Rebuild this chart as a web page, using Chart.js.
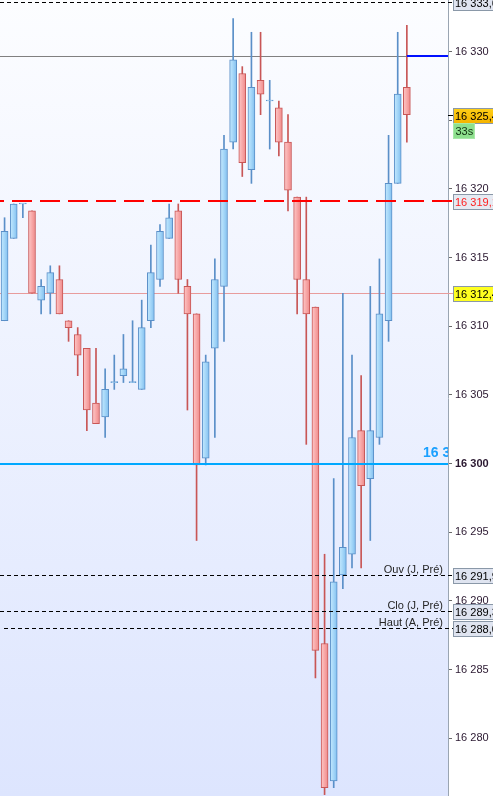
<!DOCTYPE html>
<html>
<head>
<meta charset="utf-8">
<script src="https://cdn.jsdelivr.net/npm/chart.js@4.4.0/dist/chart.umd.min.js"></script>
<style>
  html, body { margin: 0; padding: 0; background: #fff; }
  canvas { display: block; }
</style>
</head>
<body>
<canvas id="chart" width="493" height="796"></canvas>
<script>
// candles (one minute bars), left to right
const opens  = [16310.4, 16316.4, 16318.9, 16318.4, 16311.9, 16312.4, 16313.4, 16310.4, 16309.4, 16308.4,
                16304.4, 16303.4, 16305.9, 16306.4, 16305.9, 16305.4, 16310.4, 16313.4, 16316.4, 16318.4,
                16312.9, 16310.9, 16300.4, 16308.4, 16312.9, 16323.4, 16328.4, 16321.4, 16327.9, 16326.4,
                16325.9, 16323.4, 16319.4, 16313.4, 16311.4, 16286.9, 16276.9, 16291.9, 16293.4, 16302.4,
                16298.9, 16301.9, 16310.4, 16320.4, 16327.4];
const highs  = [16317.9, 16318.9, 16318.9, 16318.4, 16313.4, 16314.4, 16314.4, 16310.4, 16309.9, 16308.4,
                16308.4, 16306.9, 16307.9, 16309.4, 16310.4, 16311.9, 16315.9, 16317.4, 16318.9, 16318.9,
                16313.4, 16310.9, 16307.9, 16314.9, 16323.9, 16332.4, 16328.9, 16331.4, 16331.4, 16327.9,
                16326.4, 16325.4, 16319.4, 16319.4, 16311.4, 16293.4, 16298.9, 16312.4, 16307.9, 16306.4,
                16312.9, 16314.9, 16323.9, 16331.4, 16331.9];
const lows   = [16310.4, 16316.4, 16317.9, 16312.4, 16310.9, 16310.9, 16310.9, 16308.9, 16306.4, 16302.4,
                16302.9, 16301.9, 16305.4, 16305.9, 16305.9, 16305.4, 16309.9, 16312.9, 16316.4, 16312.4,
                16303.9, 16294.4, 16299.9, 16301.9, 16308.9, 16322.9, 16320.9, 16320.4, 16325.4, 16322.9,
                16322.4, 16318.4, 16310.9, 16301.4, 16284.4, 16275.9, 16276.4, 16290.9, 16292.4, 16292.4,
                16294.4, 16301.4, 16308.9, 16320.4, 16323.4];
const closes = [16316.9, 16318.9, 16318.9, 16312.4, 16312.9, 16313.9, 16310.9, 16309.9, 16307.9, 16303.9,
                16302.9, 16305.4, 16305.9, 16306.9, 16305.9, 16309.9, 16313.9, 16316.9, 16317.9, 16313.4,
                16310.9, 16299.9, 16307.4, 16313.4, 16322.9, 16329.4, 16321.9, 16327.4, 16326.9, 16326.4,
                16323.4, 16319.9, 16313.4, 16310.9, 16286.4, 16276.4, 16291.4, 16293.9, 16301.9, 16298.4,
                16302.4, 16310.9, 16320.4, 16326.9, 16325.4];

// 45 bars plus empty room on the right
const slotCount = 49;
const slots = Array.from({ length: slotCount }, (_, i) => String(i + 1));

const tickValues = [16280, 16285, 16290, 16295, 16300, 16305, 16310, 16315, 16320, 16325, 16330];

// horizontal levels
const topLevel = 16333.6;
const highLevel = 16329.7;
const redLevel = 16319.1;
const pinkLevel = 16312.4;
const roundLevel = 16300;
const lastPrice = 16325.4;
const timerText = '33s';
const prevNames = ['Ouv (J, Pré)', 'Clo (J, Pré)', 'Haut (A, Pré)'];
const prevLevels = [16291.9, 16289.3, 16288.0];

const BLUE_LINE = '#5a8fc8';
const RED_LINE = '#c85656';
const BLUE_STOPS = ['#bfe6fd', '#a4d6f8', '#86c2f0'];
const RED_STOPS = ['#fcc4c4', '#f8a8a8', '#ef8e8e'];

const isUp = opens.map((o, i) => closes[i] >= o);
const lineColors = isUp.map(u => u ? BLUE_LINE : RED_LINE);

const fmt = (v, dec) => {
  const s = v.toFixed(dec).replace('.', ',');
  return s.slice(0, 2) + ' ' + s.slice(2);
};

// horizontal shading across each body
function bodyFill(c) {
  const up = isUp[c.dataIndex];
  const stops = up ? BLUE_STOPS : RED_STOPS;
  const xs = c.chart.scales && c.chart.scales.x;
  if (!xs || xs.width == null) return stops[1];
  const cx = xs.getPixelForValue(c.dataIndex);
  const g = c.chart.ctx.createLinearGradient(cx - 3, 0, cx + 3, 0);
  g.addColorStop(0, stops[0]);
  g.addColorStop(0.5, stops[1]);
  g.addColorStop(1, stops[2]);
  return g;
}

function hline(ctx, y, x1, x2, color, width, dash, offset) {
  ctx.save();
  ctx.strokeStyle = color;
  ctx.lineWidth = width;
  ctx.setLineDash(dash || []);
  ctx.lineDashOffset = offset || 0;
  ctx.beginPath();
  ctx.moveTo(x1, y);
  ctx.lineTo(x2, y);
  ctx.stroke();
  ctx.restore();
}

function priceBox(ctx, x, y, text, bg, fg) {
  const top = Math.round(y) - 7;
  ctx.save();
  ctx.fillStyle = bg;
  ctx.fillRect(x, top, 60, 15);
  ctx.strokeStyle = '#8a98a8';
  ctx.lineWidth = 1;
  ctx.strokeRect(x + 0.5, top + 0.5, 60, 15);
  ctx.fillStyle = fg;
  ctx.font = '11px "Liberation Sans", Arial, sans-serif';
  ctx.textBaseline = 'middle';
  ctx.fillText(text, x + 2, top + 8.5);
  ctx.restore();
}

const levelsPlugin = {
  id: 'levels',
  beforeDraw(chart) {
    const { ctx, chartArea: a } = chart;
    const g = ctx.createLinearGradient(0, a.top, 0, a.bottom);
    g.addColorStop(0, '#fcfdff');
    g.addColorStop(1, '#dde5fe');
    ctx.save();
    ctx.fillStyle = g;
    ctx.fillRect(a.left, a.top, a.right - a.left, a.bottom - a.top);
    ctx.restore();
  },
  beforeDatasetsDraw(chart) {
    const { ctx, chartArea: a } = chart;
    const y = chart.scales.y;
    hline(ctx, Math.round(y.getPixelForValue(highLevel)) + 0.5, a.left, a.right, '#808080', 1);
    hline(ctx, Math.round(y.getPixelForValue(pinkLevel)) + 0.5, a.left, a.right + 5, '#e89c9c', 1);
  },
  afterDatasetsDraw(chart) {
    const { ctx, chartArea: a } = chart;
    const y = chart.scales.y, x = chart.scales.x;
    const lastX = x.getPixelForValue(opens.length - 1);
    hline(ctx, Math.round(y.getPixelForValue(topLevel)) + 0.5, a.left, a.right + 5, '#000', 1, [4, 3]);
    hline(ctx, Math.round(y.getPixelForValue(highLevel)), lastX, a.right, '#0010ff', 2);
    hline(ctx, Math.round(y.getPixelForValue(redLevel)), a.left, a.right + 5, '#ff0000', 2, [20, 8], 16);
    hline(ctx, Math.round(y.getPixelForValue(roundLevel)), a.left, a.right, '#00a8ff', 2);

    ctx.save();
    ctx.beginPath();
    ctx.rect(a.left, a.top, a.right - a.left, a.bottom - a.top);
    ctx.clip();
    ctx.fillStyle = '#1aa0ff';
    ctx.font = 'bold 14px "Liberation Sans", Arial, sans-serif';
    ctx.fillText(fmt(roundLevel, 0), 423, y.getPixelForValue(roundLevel) - 7);
    ctx.restore();

    prevLevels.forEach((v, i) => {
      const py = Math.round(y.getPixelForValue(v)) + 0.5;
      hline(ctx, py, a.left + (i === 2 ? 4 : 0), a.right + 5, '#000', 1, [4, 3]);
      ctx.save();
      ctx.fillStyle = '#262626';
      ctx.font = '11px "Liberation Sans", Arial, sans-serif';
      ctx.textAlign = 'right';
      ctx.fillText(prevNames[i], a.right - 5, py - 3);
      ctx.restore();
    });
  },
  afterDraw(chart) {
    const { ctx, chartArea: a } = chart;
    const y = chart.scales.y;
    const bx = a.right + 5;
    priceBox(ctx, bx, y.getPixelForValue(topLevel), fmt(topLevel, 1), '#dfe4f0', '#000');
    priceBox(ctx, bx, y.getPixelForValue(redLevel), fmt(redLevel, 1), '#e6eaf2', '#ff2020');
    priceBox(ctx, bx, y.getPixelForValue(pinkLevel), fmt(pinkLevel, 1), '#ffff20', '#000');
    prevLevels.forEach(v => priceBox(ctx, bx, y.getPixelForValue(v), fmt(v, 1), '#dfe4f0', '#000'));

    const py = y.getPixelForValue(lastPrice);
    const og = ctx.createLinearGradient(0, py - 8, 0, py + 8);
    og.addColorStop(0, '#ffd21a');
    og.addColorStop(1, '#f5b400');
    hline(ctx, Math.round(py) + 0.5, a.right, bx, '#000', 1);
    priceBox(ctx, bx, py, fmt(lastPrice, 1), og, '#000');
    ctx.save();
    ctx.fillStyle = '#8ee08e';
    ctx.fillRect(bx, Math.round(py) + 8, 21, 15);
    ctx.strokeStyle = '#a8e8a8';
    ctx.strokeRect(bx + 0.5, Math.round(py) + 8.5, 21, 15);
    ctx.fillStyle = '#103010';
    ctx.font = '11px "Liberation Sans", Arial, sans-serif';
    ctx.textBaseline = 'middle';
    ctx.fillText(timerText, bx + 2.5, Math.round(py) + 16.5);
    ctx.restore();
  }
};

new Chart(document.getElementById('chart'), {
  type: 'bar',
  data: {
    labels: slots,
    datasets: [
      {
        label: 'corps',
        data: opens.map((o, i) => [o, closes[i]]),
        backgroundColor: bodyFill,
        borderColor: lineColors,
        borderWidth: 1,
        borderSkipped: false,
        barThickness: 7,
        minBarLength: 1,
        grouped: false,
        order: 0
      },
      {
        label: 'mèches',
        data: lows.map((l, i) => [l, highs[i]]),
        backgroundColor: lineColors,
        borderWidth: 0,
        barThickness: 1,
        grouped: false,
        order: 1
      }
    ]
  },
  options: {
    responsive: false,
    animation: false,
    layout: { padding: 0 },
    plugins: {
      legend: { display: false },
      tooltip: { enabled: false }
    },
    scales: {
      x: {
        display: false,
        offset: true
      },
      y: {
        position: 'right',
        min: 16275.8,
        max: 16333.75,
        afterBuildTicks: s => { s.ticks = tickValues.map(v => ({ value: v })); },
        afterFit: s => { s.width = 45; s.paddingTop = 0; s.paddingBottom = 0; },
        border: { display: true, color: '#9aa5b2', width: 1 },
        grid: { drawOnChartArea: false, drawTicks: true, tickLength: 4, tickColor: '#6a6a6a' },
        ticks: {
          padding: 3,
          color: '#2a1830',
          font: c => ({
            family: '"Liberation Sans", Arial, sans-serif',
            size: 11,
            weight: c.tick && c.tick.value === roundLevel ? 'bold' : 'normal'
          }),
          callback: v => fmt(v, 0)
        }
      }
    }
  },
  plugins: [levelsPlugin]
});
</script>
</body>
</html>
